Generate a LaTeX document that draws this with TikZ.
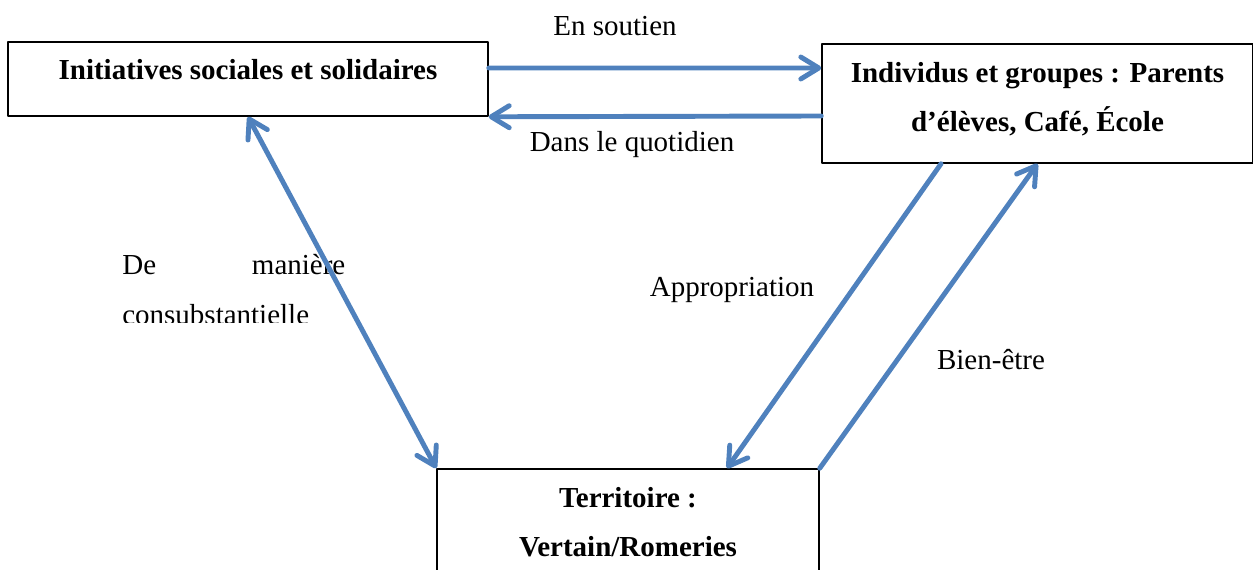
\documentclass[tikz,border=0pt]{standalone}
\usepackage{fontspec}
\setmainfont{Liberation Serif}
\usetikzlibrary{arrows.meta}
\definecolor{wwbbdd}{rgb}{0.30980392156862746,0.5058823529411764,0.7411764705882353}
\tikzset{
  bloc/.style={draw=black,line width=0.9pt,align=center,inner sep=0pt,
    font=\bfseries\fontsize{16.5}{28}\selectfont},
  lien/.style={color=wwbbdd,line width=2.8pt,line cap=round},
  etiq/.style={inner sep=0pt,font=\fontsize{16.5}{28}\selectfont}
}
\begin{document}
\begin{tikzpicture}[line cap=round,line join=round,>={Straight Barb[length=0.36cm,width=0.44cm,round]},x=0.02cm,y=-0.02cm]
\useasboundingbox (0,0) rectangle (1253,570);
% les trois blocs
\node[bloc,minimum width=9.6cm,minimum height=1.48cm,text height=0.4cm,text depth=0.36cm] (isc) at (248,79) {Initiatives sociales et solidaires};
\node[bloc,minimum width=8.62cm,minimum height=2.38cm,text height=1.44cm,text depth=0.3cm] (ind) at (1037.5,103.5) {Individus et groupes : Parents\\d’élèves, Café, École};
\node[bloc,minimum width=7.64cm,minimum height=2.38cm,text height=1.44cm,text depth=0.3cm] (ter) at (628,528.5) {Territoire :\\Vertain/Romeries};
% etiquettes
\node[etiq] (soutien) at (615,26) {En soutien};
\node[etiq] (quotidien) at (632,145) {Dans le quotidien};
\node[etiq] (appro) at (732,290) {Appropriation};
\node[etiq] (bienetre) at (991,360) {Bien-être};
\begin{scope}
\clip (100,230) rectangle (400,323);
\node[etiq,text width=4.46cm,align=left,anchor=base west] (consub) at (122,275) {De\hfill manière\\consubstantielle};
\end{scope}
% fleches
\draw[lien,->] ([yshift=0.22cm]isc.east) -- ([yshift=0.71cm]ind.west);
\draw[lien,->] ([yshift=-0.25cm]ind.west) -- (isc.south east);
\draw[lien,<->] (isc.south) -- (ter.north west);
\draw[lien,->] ([xshift=-1.93cm]ind.south) -- ([xshift=1.98cm]ter.north);
\draw[lien,->] (ter.north east) -- (ind.south);
\end{tikzpicture}
\end{document}
